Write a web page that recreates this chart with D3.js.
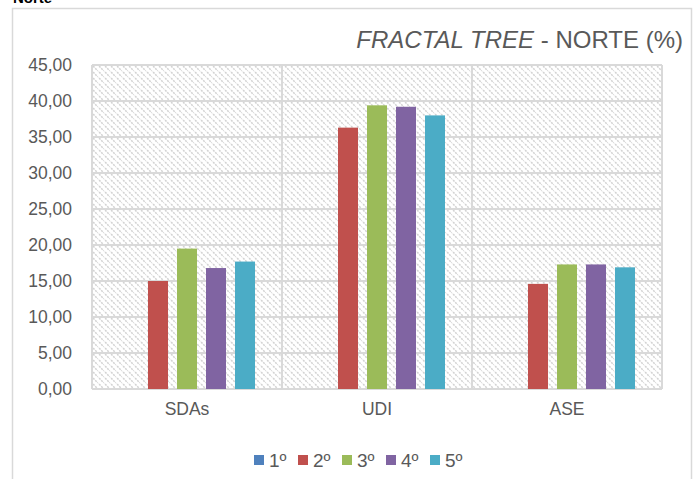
<!DOCTYPE html>
<html>
<head>
<meta charset="utf-8">
<script src="https://cdn.jsdelivr.net/npm/d3@7"></script>
<style>
  body { margin: 0; background: #fff; }
  text { font-family: "Liberation Sans", Arial, sans-serif; }
</style>
</head>
<body>
<div id="chart"></div>
<script>
var categories = ["SDAs", "UDI", "ASE"];
var seriesNames = ["1º", "2º", "3º", "4º", "5º"];
var seriesColors = ["#4f81bd", "#c0504d", "#9bbb59", "#8064a2", "#4bacc6"];
// one array per series, values for SDAs, UDI, ASE
var s1 = [0, 0, 0];
var s2 = [15.0, 36.3, 14.6];
var s3 = [19.5, 39.4, 17.3];
var s4 = [16.8, 39.2, 17.3];
var s5 = [17.7, 38.0, 16.9];
var yTicks = [0, 5, 10, 15, 20, 25, 30, 35, 40, 45];

var series = [s1, s2, s3, s4, s5];

var outerWidth = 699;
var outerHeight = 479;
var margin = { left: 92, top: 65, right: 37, bottom: 90 };
var innerWidth  = outerWidth  - margin.left - margin.right;
var innerHeight = outerHeight - margin.top  - margin.bottom;

var svg = d3.select('#chart').append('svg')
    .attr('width', outerWidth)
    .attr('height', outerHeight);

// hatch pattern for plot background
var defs = svg.append('defs');
var pat = defs.append('pattern')
    .attr('id', 'hatch')
    .attr('patternUnits', 'userSpaceOnUse')
    .attr('width', 6)
    .attr('height', 6);
pat.append('rect').attr('width', 6).attr('height', 6).attr('fill', '#fff');
pat.append('path')
    .attr('d', 'M-1,-1 L7,7 M-4,2 L2,8 M4,-2 L8,2')
    .attr('stroke', '#d2d2d2')
    .attr('stroke-width', 1.5)
    .attr('stroke-dasharray', '2,1');

// outer chart frame (bottom runs off the picture)
svg.append('rect')
    .attr('x', 12.5).attr('y', 8.5)
    .attr('width', 679).attr('height', 480)
    .attr('fill', 'none')
    .attr('stroke', '#d9d9d9')
    .attr('stroke-width', 1.5);

// cut-off heading above the frame
svg.append('text')
    .attr('x', 13).attr('y', 3)
    .attr('font-size', 15)
    .attr('font-weight', 'bold')
    .attr('fill', '#000')
    .text('Norte');

var g = svg.append('g')
    .attr('transform', 'translate(' + margin.left + ',' + margin.top + ')');

var xScale = d3.scaleBand().domain(categories).range([0, innerWidth]);
var yScale = d3.scaleLinear().domain([0, 45]).range([innerHeight, 0]);
var xInner = d3.scaleBand().domain(seriesNames)
    .range([27, xScale.bandwidth() - 27])
    .paddingInner(0.31).paddingOuter(0);

g.append('rect')
    .attr('width', innerWidth)
    .attr('height', innerHeight)
    .attr('fill', 'url(#hatch)');

// horizontal grid
g.append('g').selectAll('line')
    .data(yTicks)
    .enter().append('line')
    .attr('x1', 0).attr('x2', innerWidth)
    .attr('y1', function (d) { return yScale(d); })
    .attr('y2', function (d) { return yScale(d); })
    .attr('stroke', '#d9d9d9')
    .attr('stroke-width', 2);

// vertical category separators
g.append('g').selectAll('line')
    .data([0, innerWidth].concat(categories.slice(1).map(function (c) { return xScale(c); })))
    .enter().append('line')
    .attr('x1', function (d) { return d; })
    .attr('x2', function (d) { return d; })
    .attr('y1', 0).attr('y2', innerHeight)
    .attr('stroke', '#d9d9d9')
    .attr('stroke-width', 2);

// bars
series.forEach(function (vals, si) {
    g.append('g').selectAll('rect')
        .data(vals)
        .enter().append('rect')
        .attr('x', function (d, i) { return xScale(categories[i]) + xInner(seriesNames[si]); })
        .attr('width', xInner.bandwidth())
        .attr('y', function (d) { return yScale(d); })
        .attr('height', function (d) { return innerHeight - yScale(d); })
        .attr('fill', seriesColors[si]);
});

// y axis labels
var yAxis = d3.axisLeft(yScale)
    .tickValues(yTicks)
    .tickSize(0)
    .tickPadding(20)
    .tickFormat(function (d) { return d3.format('.2f')(d).replace('.', ','); });
var yAxisG = g.append('g').call(yAxis);
yAxisG.select('.domain').remove();
yAxisG.selectAll('text')
    .attr('font-size', 17.5)
    .attr('fill', '#595959')
    .style('font-family', '"Liberation Sans", Arial, sans-serif');

// x axis labels
var xAxis = d3.axisBottom(xScale).tickSize(0).tickPadding(14);
var xAxisG = g.append('g')
    .attr('transform', 'translate(0,' + innerHeight + ')')
    .call(xAxis);
xAxisG.select('.domain').remove();
xAxisG.selectAll('text')
    .attr('font-size', 17.5)
    .attr('fill', '#595959')
    .style('font-family', '"Liberation Sans", Arial, sans-serif');

// title
var title = svg.append('text')
    .attr('x', 683).attr('y', 48)
    .attr('text-anchor', 'end')
    .attr('font-size', 24)
    .attr('fill', '#595959');
title.append('tspan').attr('font-style', 'italic').text('FRACTAL TREE');
title.append('tspan').text(' - NORTE (%)');

// legend
var legend = svg.append('g').attr('transform', 'translate(254,455)');
var item = legend.selectAll('g')
    .data(seriesNames)
    .enter().append('g')
    .attr('transform', function (d, i) { return 'translate(' + (i * 44) + ',0)'; });
item.append('rect')
    .attr('width', 10).attr('height', 10)
    .attr('fill', function (d, i) { return seriesColors[i]; });
item.append('text')
    .attr('x', 15).attr('y', 12)
    .attr('font-size', 19)
    .attr('fill', '#595959')
    .text(function (d) { return d; });
</script>
</body>
</html>
